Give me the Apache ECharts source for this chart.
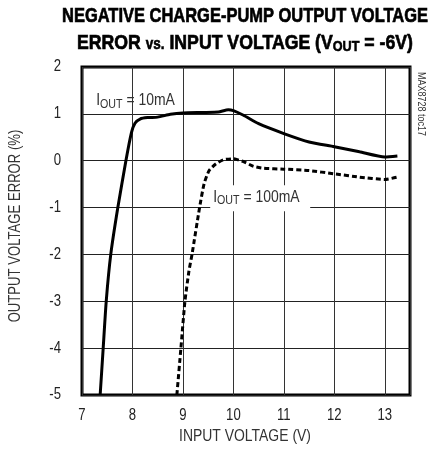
<!DOCTYPE html>
<html>
<head>
<meta charset="utf-8">
<script src="https://cdn.jsdelivr.net/npm/echarts@6/dist/echarts.min.js"></script>
<style>html,body{margin:0;padding:0;background:#fff}#c{width:430px;height:454px}</style>
</head>
<body>
<div id="c"></div>
<script>
var xTicks = [7, 8, 9, 10, 11, 12, 13];
var yTicks = [-5, -4, -3, -2, -1, 0, 1, 2];
var iout10 = [[7.36,-5],[7.42,-4],[7.48,-3],[7.57,-2],[7.71,-1],[7.87,0],[7.98,0.6],[8.05,0.8],[8.15,0.89],[8.3,0.92],[8.5,0.93],[8.75,0.99],[9.0,1.02],[9.4,1.03],[9.7,1.04],[9.9,1.09],[10.0,1.07],[10.2,0.97],[10.5,0.79],[11.0,0.58],[11.5,0.4],[12.0,0.3],[12.5,0.19],[13.0,0.08],[13.25,0.1]];
var iout100 = [[8.88,-5],[8.96,-4],[9.04,-3],[9.12,-2.35],[9.18,-2],[9.33,-1],[9.42,-0.49],[9.52,-0.21],[9.65,-0.07],[9.8,0.02],[10.0,0.04],[10.2,-0.02],[10.4,-0.12],[10.6,-0.16],[11.0,-0.18],[11.5,-0.21],[12.0,-0.28],[12.5,-0.35],[13.0,-0.4],[13.25,-0.35]];

var FAM = "'Liberation Sans','Arial',sans-serif";
var NX = 0.82; // Arial-Narrow-like horizontal compression
var ctx = document.createElement('canvas').getContext('2d');
function tw(font, text) { ctx.font = font; return ctx.measureText(text).width; }

var chart = echarts.init(document.getElementById('c'));
chart.setOption({
  animation: false,
  grid: {left: 82, top: 67, width: 328, height: 328, show: true, borderColor: '#000', borderWidth: 3, backgroundColor: 'transparent'},
  xAxis: {type: 'value', min: 7, max: 13.5, interval: 1,
    axisLine: {show: false}, axisTick: {show: false},
    splitLine: {show: true, lineStyle: {color: '#333', width: 1}},
    axisLabel: {show: false}
  },
  yAxis: {type: 'value', min: -5, max: 2, interval: 1,
    axisLine: {show: false}, axisTick: {show: false},
    splitLine: {show: true, lineStyle: {color: '#222', width: 1}},
    axisLabel: {show: false}
  },
  series: [
    {type: 'line', data: iout10, showSymbol: false, smooth: 0.2, lineStyle: {color: '#000', width: 3}, z: 3},
    {type: 'line', data: iout100, showSymbol: false, smooth: 0.2, lineStyle: {color: '#000', width: 3, type: [5, 3]}, z: 3}
  ]
});

var graphics = [];
// tick labels (narrow)
var tickFont = '16px ' + FAM;
xTicks.forEach(function (v) {
  var p = chart.convertToPixel({gridIndex: 0}, [v, -5]);
  graphics.push({type: 'text', x: p[0], y: 416, scaleX: NX, style: {text: String(v), font: tickFont, fill: '#222', align: 'center', verticalAlign: 'middle'}});
});
yTicks.forEach(function (v) {
  var p = chart.convertToPixel({gridIndex: 0}, [7, v]);
  graphics.push({type: 'text', x: 61, y: p[1], scaleX: NX, style: {text: String(v), font: tickFont, fill: '#222', align: 'right', verticalAlign: 'middle'}});
});

// title
var tf = 'bold 21px ' + FAM;
var t1 = 'NEGATIVE CHARGE-PUMP OUTPUT VOLTAGE';
graphics.push({type: 'text', x: 245, y: 16, scaleX: 366 / tw(tf, t1), style: {text: t1, font: tf, fill: '#000', stroke: '#000', lineWidth: 0.7, align: 'center', verticalAlign: 'middle'}});
var sf = 'bold 16px ' + FAM, uf = 'bold 15px ' + FAM;
var l2w = tw(tf, 'ERROR ') + tw(sf, 'vs.') + tw(tf, ' INPUT VOLTAGE (V') + tw(uf, 'OUT') + tw(tf, ' = -6V)');
graphics.push({type: 'text', x: 245, y: 43, scaleX: 336 / l2w, style: {
  text: '{t|ERROR }{s|vs.}{t| INPUT VOLTAGE (V}{u|OUT}{t| = -6V)}',
  align: 'center', verticalAlign: 'middle',
  rich: {
    t: {font: tf, fill: '#000', stroke: '#000', lineWidth: 0.7},
    s: {font: sf, fill: '#000', stroke: '#000', lineWidth: 0.6, padding: [3, 0, 0, 0]},
    u: {font: uf, fill: '#000', stroke: '#000', lineWidth: 0.6, padding: [8, 0, 0, 0]}
  }}});

// curve annotations
var rich = {
  a: {font: '17px ' + FAM, fill: '#333'},
  b: {font: '13px ' + FAM, fill: '#333', padding: [7, 0, 0, 0]}
};
var p10 = chart.convertToPixel({gridIndex: 0}, [7.28, 1.28]);
var p100 = chart.convertToPixel({gridIndex: 0}, [9.6, -0.78]);
graphics.push({type: 'text', x: p10[0], y: p10[1], z: 10, scaleX: NX, style: {text: '{a|I}{b|OUT}{a| = 10mA}', rich: rich, verticalAlign: 'middle'}});
graphics.push({type: 'rect', z: 9, shape: {x: p100[0] - 3, y: p100[1] - 12, width: 100, height: 26}, style: {fill: '#fff'}});
graphics.push({type: 'text', x: p100[0], y: p100[1], z: 10, scaleX: NX, style: {text: '{a|I}{b|OUT}{a| = 100mA}', rich: rich, verticalAlign: 'middle'}});

// axis names
graphics.push({type: 'text', x: 16, y: 226, rotation: Math.PI / 2, scaleX: NX, style: {text: 'OUTPUT VOLTAGE ERROR (%)', font: '16px ' + FAM, fill: '#333', align: 'center', verticalAlign: 'middle'}});
graphics.push({type: 'text', x: 245, y: 436, scaleX: NX, style: {text: 'INPUT VOLTAGE (V)', font: '17px ' + FAM, fill: '#333', align: 'center', verticalAlign: 'middle'}});
graphics.push({type: 'text', x: 421, y: 104, rotation: -Math.PI / 2, scaleX: NX, style: {text: 'MAX8728 toc17', font: '11px ' + FAM, fill: '#333', align: 'center', verticalAlign: 'middle'}});

chart.setOption({graphic: graphics});
</script>
</body>
</html>
